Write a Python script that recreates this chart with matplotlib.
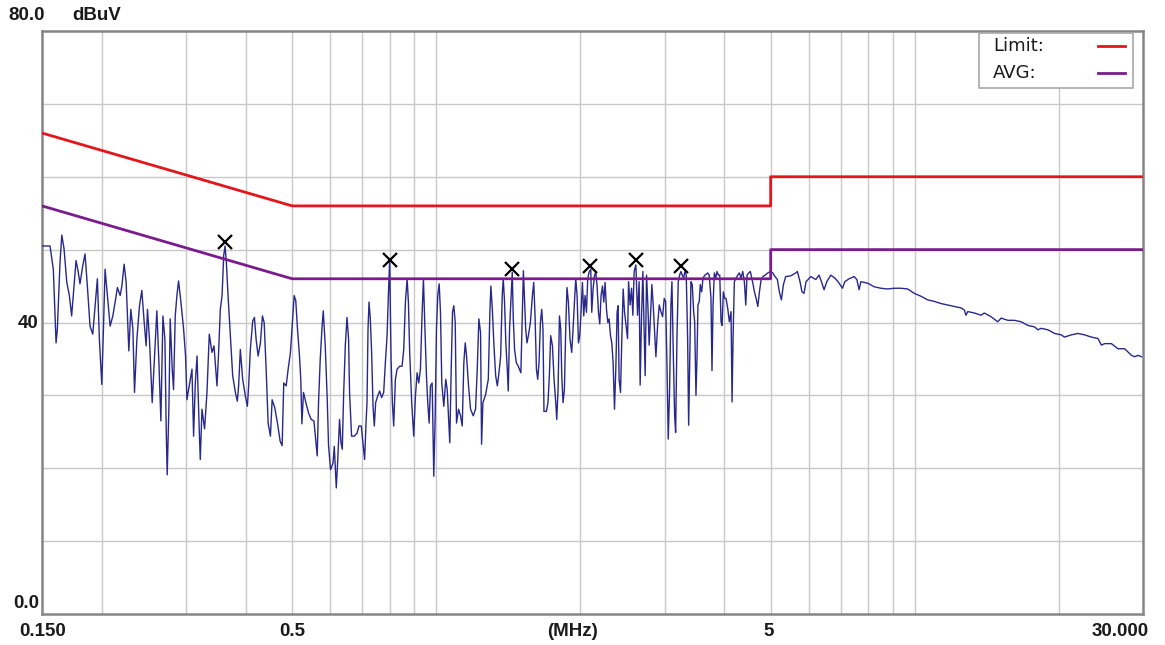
from matplotlib import pyplot as plt
from matplotlib.patches import Rectangle
import numpy as np

# scan trace (MHz, dBuV)
freq = [0.150, 0.1559, 0.1584, 0.1605, 0.1615, 0.1636, 0.1650, 0.1668, 0.1690, 0.1711,
        0.1730, 0.1750, 0.1767, 0.1786, 0.1801, 0.1825, 0.1845, 0.1866, 0.1890, 0.1915,
        0.1937, 0.1958, 0.1977, 0.2000, 0.2016, 0.2032, 0.2055, 0.2082, 0.2109, 0.2133,
        0.2156, 0.2185, 0.2203, 0.2227, 0.2249, 0.2278, 0.2300, 0.2323, 0.2341, 0.2368,
        0.2398, 0.2425, 0.2453, 0.2476, 0.2492, 0.2516, 0.2549, 0.2574, 0.2607, 0.2633,
        0.2658, 0.2684, 0.2710, 0.2727, 0.2740, 0.2763, 0.2780, 0.2807, 0.2825, 0.2848,
        0.2871, 0.2894, 0.2927, 0.2965, 0.2993, 0.3013,
        0.3062, 0.3087, 0.3111, 0.3137, 0.3163, 0.3198, 0.3213, 0.3239, 0.3280, 0.3318,
        0.3355, 0.3399, 0.3432, 0.3482, 0.3509, 0.3538, 0.3568, 0.3596, 0.3620, 0.3642,
        0.3672, 0.3713, 0.3755, 0.3804, 0.3840, 0.3864, 0.3896, 0.3940, 0.3991, 0.4030,
        0.4055, 0.4088, 0.4135, 0.4169, 0.4203, 0.4244, 0.4291, 0.4333, 0.4369, 0.4411,
        0.4453, 0.4503, 0.4540, 0.4598, 0.4658, 0.4719, 0.4764, 0.4801, 0.4857, 0.4904,
        0.4958, 0.5000, 0.5048, 0.5087, 0.5129, 0.5179, 0.5211, 0.5239, 0.5280, 0.5341,
        0.5409, 0.5479, 0.5551, 0.5605, 0.5640, 0.5676, 0.5722, 0.5769, 0.5806, 0.5862,
        0.5919, 0.5956, 0.6013,
        0.6085, 0.6123, 0.6182, 0.6221, 0.6280, 0.6324, 0.6363, 0.6403, 0.6456, 0.6509,
        0.6559, 0.6590, 0.6654, 0.6742, 0.6830, 0.6896, 0.6973, 0.7017, 0.7085, 0.7133,
        0.7167, 0.7202, 0.7237, 0.7282, 0.7328, 0.7378, 0.7424, 0.7471, 0.7543, 0.7616,
        0.7690, 0.7766, 0.7829, 0.7894, 0.7943, 0.7992, 0.8047, 0.8098, 0.8149, 0.8216,
        0.8283, 0.8387, 0.8485, 0.8552, 0.8622, 0.8693, 0.8747, 0.8801, 0.8887, 0.8974,
        0.9048, 0.9122, 0.9193, 0.9268, 0.9344, 0.9403, 0.9462, 0.9540, 0.9600, 0.9665,
        0.9726, 0.9806, 0.9883, 0.9950, 1.0012, 1.0075, 1.0143, 1.0207, 1.0271, 1.0371,
        1.0471, 1.0542, 1.0608, 1.0674, 1.0747, 1.0815, 1.0883, 1.0957, 1.1025, 1.1132,
        1.1240, 1.1333, 1.1421, 1.1499, 1.1571, 1.1683, 1.1796, 1.1950, 1.2083, 1.2183,
        1.2277, 1.2378,
        1.2438, 1.2519, 1.2682, 1.2848, 1.2946, 1.3009, 1.3100, 1.3203, 1.3311, 1.3420,
        1.3524, 1.3635, 1.3739, 1.3807, 1.3893, 1.3980, 1.4075, 1.4143, 1.4232, 1.4320,
        1.4418, 1.4489, 1.4580, 1.4700, 1.4841, 1.5028, 1.5137, 1.5212, 1.5284, 1.5381,
        1.5475, 1.5581, 1.5733, 1.5886, 1.5987, 1.6089, 1.6196, 1.6298, 1.6400, 1.6511,
        1.6615, 1.6715, 1.6795, 1.6990, 1.7122, 1.7237, 1.7346, 1.7494, 1.7630, 1.7775,
        1.7861, 1.7974, 1.8094, 1.8208, 1.8296, 1.8408, 1.8531, 1.8647, 1.8761, 1.8891,
        1.9036, 1.9194, 1.9319, 1.9448, 1.9571, 1.9697, 1.9827, 1.9952, 2.0075, 2.0210,
        2.0338, 2.0465, 2.0604, 2.0733, 2.0863, 2.1035, 2.1137, 2.1272, 2.1414, 2.1549,
        2.1686, 2.1831, 2.1968, 2.2105, 2.2257, 2.2398, 2.2538, 2.2691, 2.2833, 2.2977,
        2.3133, 2.3278, 2.3425, 2.3582, 2.3730, 2.3879, 2.3996, 2.4111, 2.4274, 2.4426,
        2.4587, 2.4751,
        2.5112, 2.5233, 2.5426, 2.5601, 2.576, 2.5922, 2.6135, 2.6350, 2.6553, 2.6680,
        2.6863, 2.703, 2.7200, 2.7330, 2.7516, 2.7689, 2.7862, 2.8052, 2.8227, 2.8413,
        2.8603, 2.8783, 2.9020, 2.9244, 2.9484, 2.9725, 2.9958, 3.0160, 3.0349, 3.0541,
        3.0746, 3.0939, 3.1089, 3.1287, 3.1496, 3.1649, 3.1848, 3.2049, 3.2264, 3.2467,
        3.2671, 3.2891, 3.3097, 3.3304, 3.3531, 3.3691, 3.3904, 3.4067, 3.4281, 3.4517,
        3.4682, 3.4901, 3.5069, 3.5238, 3.5460, 3.5629, 3.5873, 3.610, 3.6449, 3.6928,
        3.7198, 3.7518, 3.7699, 3.789, 3.8129, 3.8386, 3.8627, 3.8871, 3.9133, 3.9378,
        3.9569, 3.9820, 4.0086, 4.0339, 4.0671, 4.0985, 4.1322, 4.1522, 4.172, 4.1983,
        4.2327, 4.2674, 4.3005, 4.3359, 4.3714, 4.4056, 4.4354, 4.4631, 4.4996, 4.5343,
        4.5653, 4.595, 4.6240, 4.6619, 4.7003, 4.7370, 4.7755, 4.8148, 4.8687, 4.9325,
        4.9944, 5.0524,
        5.080, 5.164, 5.214, 5.265, 5.316, 5.375, 5.506, 5.640, 5.687, 5.758,
        5.814, 5.870, 5.928, 6.064, 6.212, 6.311, 6.385, 6.465, 6.550, 6.677,
        6.807, 6.915, 7.065, 7.143, 7.292, 7.471, 7.569, 7.652, 7.717, 7.970,
        8.228, 8.498, 8.777, 9.061, 9.358, 9.665, 9.978, 10.31, 10.65, 10.98,
        11.35, 11.72, 12.10, 12.50, 12.70, 12.80, 12.91, 13.33, 13.76, 13.98,
        14.44, 14.91, 15.16, 15.66, 16.16, 16.69, 17.24, 17.80, 18.09, 18.38,
        18.98, 19.60, 20.24, 20.56, 21.24, 21.94, 22.65, 23.39, 24.16, 24.55,
        24.94, 25.76, 26.60, 27.46, 28.37, 28.82, 29.30, 29.77]

level = [50.5, 50.5, 47.3, 37.2, 39.1, 48.3, 52.0, 50.1, 45.5, 43.7,
         40.9, 45.0, 48.5, 46.9, 45.3, 47.8, 49.4, 45.0, 39.5, 38.4,
         42.3, 46.0, 37.7, 31.5, 39.1, 47.3, 43.7, 39.5, 40.9, 42.8,
         44.8, 43.7, 45.0, 48.0, 45.5, 36.1, 41.8, 39.1, 30.4, 37.7,
         42.3, 44.4, 40.0, 36.8, 41.8, 37.7, 29.0, 34.5, 41.6, 34.5,
         26.5, 40.9, 37.7, 25.3, 19.1, 28.5, 40.5, 33.6, 30.8, 40.9,
         43.7, 45.7, 42.8, 39.1, 35.4, 29.4,
         32.2, 33.6, 24.4, 31.7, 35.4, 24.9, 21.2, 28.1, 25.4, 30.4,
         38.4, 35.9, 36.8, 31.3, 35.9, 41.8, 43.7, 49.2, 50.5, 48.3,
         43.7, 38.2, 32.7, 30.4, 29.2, 31.3, 36.3, 32.2, 29.9, 28.5,
         31.3, 36.3, 40.2, 40.7, 37.7, 35.4, 37.2, 40.9, 40.0, 33.6,
         26.2, 24.4, 29.4, 28.3, 26.2, 23.7, 23.1, 31.7, 31.3, 33.6,
         35.9, 39.5, 43.7, 43.0, 39.1, 35.4, 32.2, 26.1, 30.4, 29.0,
         27.6, 26.7, 26.5, 23.6, 21.7, 29.0, 34.9, 39.1, 41.6, 36.8,
         29.4, 23.1, 19.8,
         20.7, 23.0, 17.3, 20.7, 26.7, 23.5, 22.6, 29.9, 36.8, 40.7,
         37.7, 30.4, 24.4, 24.4, 24.8, 25.8, 25.8, 23.9, 21.2, 26.2,
         29.0, 39.1, 42.8, 40.5, 35.9, 28.5, 25.8, 29.0, 29.9, 30.6,
         29.7, 30.4, 34.5, 38.2, 43.7, 48.5, 35.0, 29.0, 25.8, 32.2,
         33.6, 34.0, 34.0, 36.3, 42.8, 46.0, 42.8, 35.9, 29.0, 24.4,
         29.9, 33.1, 31.7, 33.6, 41.4, 46.0, 40.0, 32.7, 29.0, 26.2,
         31.3, 31.7, 18.9, 27.2, 39.1, 43.7, 45.3, 41.4, 31.7, 28.5,
         32.2, 30.8, 27.2, 23.5, 33.6, 41.4, 42.3, 40.0, 26.2, 28.1,
         27.2, 25.8, 34.5, 37.2, 35.4, 31.3, 28.1, 27.2, 28.1, 33.6,
         40.5, 38.6,
         23.3, 29.0, 30.1, 32.2, 41.4, 45.0, 41.8, 36.8, 32.7, 31.3,
         33.1, 35.4, 43.7, 46.0, 42.8, 37.2, 33.6, 30.6, 39.1, 42.8,
         46.9, 40.5, 36.3, 34.5, 34.0, 33.1, 41.4, 47.1, 43.7, 39.1,
         37.2, 38.2, 40.0, 43.7, 45.5, 40.9, 33.6, 32.2, 34.5, 40.0,
         41.8, 39.1, 27.8, 27.8, 29.0, 32.7, 38.2, 36.8, 32.2, 29.0,
         26.7, 30.8, 40.9, 39.1, 32.7, 29.0, 30.8, 39.1, 44.8, 42.8,
         37.7, 35.9, 39.1, 42.8, 46.0, 43.7, 37.2, 38.2, 41.4, 45.5,
         40.9, 43.7, 41.4, 46.0, 46.9, 47.3, 41.4, 44.6, 46.4, 46.9,
         45.0, 41.4, 39.8, 43.7, 45.0, 42.8, 45.5, 41.8, 40.0, 40.5,
         38.2, 37.2, 34.5, 28.1, 33.6, 41.4, 42.3, 32.2, 30.4, 37.7,
         44.6, 41.4,
         37.8, 45.6, 42.4, 44.7, 41.0, 47.0, 47.9, 41.0, 45.6, 31.4,
         41.0, 47.0, 38.7, 32.7, 46.5, 42.4, 36.9, 41.0, 45.2, 42.4,
         38.7, 35.3, 39.6, 42.4, 41.5, 40.8, 43.3, 42.9, 34.6, 24.0,
         30.9, 42.4, 45.6, 36.0, 27.2, 24.9, 37.8, 45.6, 46.5, 47.0,
         46.5, 46.1, 47.0, 46.5, 37.8, 25.9, 36.4, 45.6, 45.2, 41.5,
         40.1, 30.0, 35.0, 42.4, 42.9, 45.2, 44.2, 46.1, 46.5, 46.8,
         46.5, 43.3, 33.4, 42.4, 46.8, 46.1, 47.0, 46.5, 46.5, 40.1,
         39.6, 44.2, 43.3, 43.3, 41.9, 40.1, 41.5, 29.1, 37.8, 45.6,
         46.1, 46.5, 46.8, 46.1, 47.0, 45.6, 42.4, 46.5, 46.8, 47.0,
         46.1, 45.2, 44.2, 43.3, 42.2, 44.2, 45.9, 46.3, 46.5, 46.8,
         47.0, 46.8,
         46.5, 45.9, 44.2, 43.1, 45.2, 46.3, 46.4, 46.8, 47.0, 45.6,
         44.2, 44.0, 45.6, 46.3, 45.9, 46.5, 45.6, 44.5, 45.6, 46.5,
         46.1, 45.6, 44.7, 45.6, 46.0, 46.3, 45.9, 44.5, 45.6, 45.4,
         44.9, 44.7, 44.6, 44.7, 44.7, 44.6, 44.0, 43.6, 43.1, 42.9,
         42.6, 42.4, 42.2, 42.0, 41.7, 41.0, 41.5, 41.3, 41.0, 41.3,
         40.8, 40.1, 40.6, 40.3, 40.3, 40.1, 39.6, 39.4, 39.0, 39.2,
         39.0, 38.5, 38.3, 38.0, 38.3, 38.5, 38.3, 38.0, 37.8, 36.9,
         37.1, 37.1, 36.4, 36.4, 35.5, 35.3, 35.5, 35.3]

# limit lines (quasi-peak and average)
limit_f = [0.15, 0.5, 5, 5, 30]
limit_db = [66, 56, 56, 60, 60]
avg_f = [0.15, 0.5, 5, 5, 30]
avg_db = [56, 46, 46, 50, 50]

# marked peaks
peak_f = [0.3625, 0.7992, 1.442, 2.096, 2.6135, 3.2467]
peak_db = [51.1, 48.6, 47.4, 47.7, 48.6, 47.7]

red = '#e3161c'
purple = '#7a1c8e'

W, H = 1165, 645
fig = plt.figure(figsize=(W/100, H/100), dpi=100)
ax = fig.add_axes([42/W, (H-614)/H, (1143-42)/W, (614-31)/H])

ax.set_xscale('log')
ax.set_xlim(0.15, 30)
ax.set_ylim(0, 80)

ax.set_xticks([0.2, 0.3, 0.4, 0.5, 0.6, 0.7, 0.8, 0.9, 1, 2, 3, 4, 5, 6, 7, 8, 9, 10, 20], minor=False)
ax.set_xticks([], minor=True)
ax.set_yticks(np.arange(10, 80, 10))
ax.grid(True, color='#c8c8c8', lw=1.0)
ax.tick_params(length=0, labelbottom=False, labelleft=False)
for s in ax.spines.values():
    s.set_color('#858585')
    s.set_linewidth(1.8)

ax.plot(freq, level, color='#28288c', lw=1.0, zorder=3)
ax.plot(limit_f, limit_db, color=red, lw=2.0, zorder=4)
ax.plot(avg_f, avg_db, color=purple, lw=2.0, zorder=4)
ax.plot(peak_f, peak_db, ls='none', marker='x', ms=9.5, mew=1.6, color='black', zorder=5)

# legend box, laid out like the analyser software (label left, line right)
fig.patches.append(Rectangle((979/W, 1-88/H), (1133-979)/W, (88-33)/H, transform=fig.transFigure,
                             facecolor='white', edgecolor='#a8a8a8', lw=1.2, zorder=10))
for txt, col, yy in [('Limit:', red, 46), ('AVG:', purple, 73)]:
    fig.text(993/W, 1-yy/H, txt, ha='left', va='center', family='DejaVu Sans', fontsize=13,
             color='#1a1a1a', zorder=11)
    fig.lines.append(plt.Line2D([1098/W, 1125/W], [1-yy/H, 1-yy/H], transform=fig.transFigure,
                                color=col, lw=2.0, zorder=11))

# axis labels drawn as text like the analyser software
lab = dict(family='Liberation Sans', weight='bold', fontsize=13.5, color='#1a1a1a')
fig.text(8/W, 1-15/H, '80.0', ha='left', va='center', **lab)
fig.text(72/W, 1-15/H, 'dBuV', ha='left', va='center', **lab)
fig.text(39/W, 1-323/H, '40', ha='right', va='center', **lab)
fig.text(39/W, 1-603/H, '0.0', ha='right', va='center', **lab)
fig.text(43/W, 1-632/H, '0.150', ha='center', va='center', **lab)
fig.text(292/W, 1-632/H, '0.5', ha='center', va='center', **lab)
fig.text(573/W, 1-632/H, '(MHz)', ha='center', va='center', **lab)
fig.text(769/W, 1-632/H, '5', ha='center', va='center', **lab)
fig.text(1149/W, 1-632/H, '30.000', ha='right', va='center', **lab)

plt.savefig('out.png', dpi=100)
